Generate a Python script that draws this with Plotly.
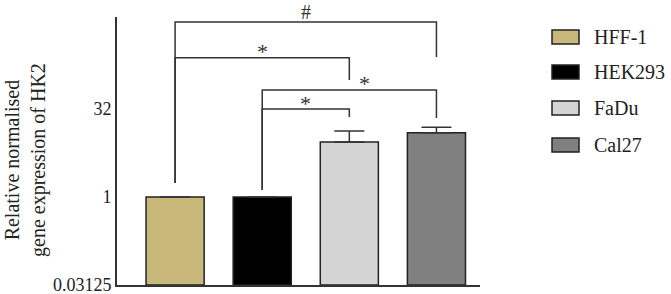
import plotly.graph_objects as go
import math

categories = ["HFF-1", "HEK293", "FaDu", "Cal27"]
values = [1.0, 1.0, 8.7, 12.6]
err_up = [0.0, 0.0, 4.8, 3.0]
colors = ["#C8B87A", "#000000", "#D4D4D4", "#808080"]
tick_vals = [0.03125, 1, 32]
tick_text = ["0.03125", "1", "32"]
y_title = "Relative normalised<br>gene expression of HK2"

# significance brackets: (left idx, right idx, bar height, left leg bottom, right leg bottom, label, label x offset)
brackets = [
    (0, 3, 985, 1.74, 248, "#", 0.0),
    (0, 2, 240, 1.74, 100, "*", 0.0),
    (1, 3, 68, 1.32, 22.5, "*", 0.17),
    (1, 2, 32, 1.32, 23.4, "*", 0.0),
]

W, H = 671, 294
L, R, T, B = 117, 480, 17, 285
BASE = 0.03125

fig = go.Figure()
fig.add_trace(go.Bar(
    x=list(range(len(categories))), y=[v - BASE for v in values], base=BASE,
    marker=dict(color=colors, line=dict(color="#222222", width=1.5)),
    width=0.667,
    error_y=dict(type="data", array=err_up, arrayminus=[0]*4, symmetric=False,
                 color="#333333", thickness=1.5, width=15, visible=True),
    showlegend=False,
))

for (a, b, h, la, rb, lab, off) in brackets:
    fig.add_trace(go.Scatter(
        x=[a, a, b, b], y=[la, h, h, rb], mode="lines",
        line=dict(color="#333333", width=1.5), showlegend=False, hoverinfo="skip"))
    is_hash = lab == "#"
    fig.add_annotation(x=(a + b) / 2 + off, y=math.log10(h), text=lab, showarrow=False,
                       yanchor="middle", yshift=10 if is_hash else 6,
                       font=dict(family="Liberation Serif", size=20 if is_hash else 22, color="#333333"))

def px(x):
    return (x - L) / (R - L)

def py(y):
    return (B - y) / (B - T)

leg_y = [37, 72, 108, 145]
for c, name, yc in zip(colors, categories, leg_y):
    fig.add_shape(type="rect", xref="paper", yref="paper",
                  x0=px(552), x1=px(579), y0=py(yc + 7), y1=py(yc - 7),
                  fillcolor=c, line=dict(color="#222222", width=1.5))
    fig.add_annotation(xref="paper", yref="paper", x=px(592), y=py(yc), text=name,
                       showarrow=False, xanchor="left", yanchor="middle",
                       font=dict(family="Liberation Serif", size=20, color="#222222"))

# y-axis title as rotated annotation
fig.add_annotation(xref="paper", yref="paper", x=px(26), y=py(160), text=y_title,
                   textangle=-90, showarrow=False, xanchor="center", yanchor="middle",
                   font=dict(family="Liberation Serif", size=20, color="#222222"))

fig.update_layout(
    width=W, height=H,
    margin=dict(l=L, r=W - R, t=T, b=H - B, pad=0, autoexpand=False),
    plot_bgcolor="white", paper_bgcolor="white",
    font=dict(family="Liberation Serif", color="#222222"),
)
fig.update_xaxes(range=[-0.667, 3.5], showticklabels=False, ticks="", showgrid=False,
                 zeroline=False, showline=True, linecolor="#333333", linewidth=2,
                 automargin=False)
fig.update_yaxes(type="log", range=[math.log10(0.03125) - 0.0005, math.log10(2 ** 10.23)],
                 tickvals=tick_vals, ticktext=tick_text, ticks="", showgrid=False,
                 zeroline=False, showline=True, linecolor="#333333", linewidth=2,
                 tickfont=dict(size=18, family="Liberation Serif", color="#222222"),
                 ticklabeloverflow="allow", automargin=False)
fig.write_html("out.html", config={"displayModeBar": False},
               post_script="document.body.style.margin='0px';document.body.style.overflow='hidden';")
